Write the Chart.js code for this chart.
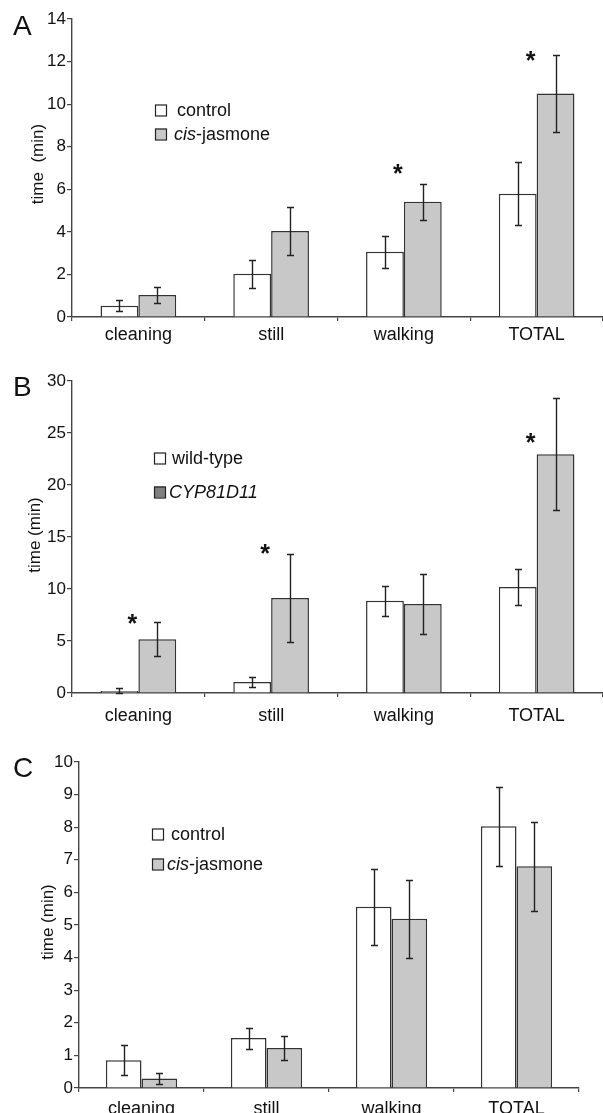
<!DOCTYPE html>
<html>
<head>
<meta charset="utf-8">
<script src="https://cdn.jsdelivr.net/npm/chart.js@4.4.1/dist/chart.umd.min.js"></script>
<style>
body{margin:0;background:#fff;}
.panel{position:absolute;left:0;width:603px;}
</style>
</head>
<body>
<div class="panel" style="top:0;height:355px"><canvas id="chartA" width="603" height="355"></canvas></div>
<div class="panel" style="top:360px;height:380px"><canvas id="chartB" width="603" height="380"></canvas></div>
<div class="panel" style="top:740px;height:373px"><canvas id="chartC" width="603" height="373"></canvas></div>
<script>
const categories=["cleaning","still","walking","TOTAL"];

// panel A
const ctrlA=[0.53,2.03,3.07,5.79];
const ctrlErrA=[0.25,0.66,0.75,1.47];
const cisA=[1.03,4.04,5.41,10.5];
const cisErrA=[0.36,1.12,0.85,1.83];
const starA=[null,null,7.0,12.3];
const ticksA={min:0,max:14,step:2};

// panel B
const wtB=[0.2,1.06,8.88,10.19];
const wtErrB=[0.25,0.47,1.43,1.7];
const cypB=[5.16,9.13,8.56,22.95];
const cypErrB=[1.62,4.25,2.9,5.37];
const starB=[7.2,13.9,null,24.6];
const ticksB={min:0,max:30,step:5};

// panel C
const ctrlC=[0.85,1.53,5.56,8.03];
const ctrlErrC=[0.46,0.32,1.17,1.21];
const cisC=[0.29,1.23,5.19,6.8];
const cisErrC=[0.17,0.36,1.19,1.37];
const starC=[null,null,null,null];
const ticksC={min:0,max:10,step:1};

const FONT="'Liberation Sans', Arial, sans-serif";
const GRAY="#c8c8c8";

function drawParts(ctx,parts,x,y){
    parts.forEach(p=>{
        ctx.font=(p.i?"italic ":"")+"18px "+FONT;
        ctx.fillText(p.t,x,y);
        x+=ctx.measureText(p.t).width;
    });
}

function makePanel(p){
    const decor={
        id:"decor",
        afterDatasetsDraw(chart){
            const ctx=chart.ctx,ys=chart.scales.y;
            ctx.save();
            ctx.strokeStyle="#222";ctx.lineWidth=1.4;
            chart.data.datasets.forEach((ds,i)=>{
                chart.getDatasetMeta(i).data.forEach((bar,j)=>{
                    const v=ds.data[j],e=ds.errors[j];
                    const t=Math.round(ys.getPixelForValue(v+e))+0.5;
                    const b=Math.round(ys.getPixelForValue(Math.max(v-e,0)))+0.5;
                    const x=Math.round(bar.x)+0.5;
                    ctx.beginPath();
                    ctx.moveTo(x,t);ctx.lineTo(x,b);
                    ctx.moveTo(x-3.5,t);ctx.lineTo(x+3.5,t);
                    ctx.moveTo(x-3.5,b);ctx.lineTo(x+3.5,b);
                    ctx.stroke();
                });
            });
            // significance stars
            ctx.fillStyle="#111";ctx.font="bold 25px "+FONT;ctx.textAlign="center";ctx.textBaseline="alphabetic";
            p.stars.forEach((s,j)=>{
                if(s==null) return;
                const x=chart.scales.x.getPixelForValue(j)-6;
                ctx.fillText("*",x,ys.getPixelForValue(s)+14);
            });
            ctx.restore();
        },
        afterDraw(chart){
            const ctx=chart.ctx;
            ctx.save();
            ctx.fillStyle="#111";ctx.textBaseline="alphabetic";ctx.textAlign="left";
            ctx.font="28px "+FONT;
            ctx.fillText(p.letter,13,p.letterY);
            // y title
            ctx.save();
            ctx.translate(p.titleX,p.titleY);ctx.rotate(-Math.PI/2);
            ctx.font="17px "+FONT;ctx.textAlign="center";ctx.textBaseline="middle";
            ctx.fillText(p.yTitle,0,0);
            ctx.restore();
            // legend
            p.legend.forEach(it=>{
                ctx.fillStyle=it.fill;ctx.strokeStyle="#222";ctx.lineWidth=1.2;
                ctx.fillRect(it.bx,it.cy-5.5,11,11);
                ctx.strokeRect(it.bx+0.5,it.cy-5,11,11);
                ctx.fillStyle="#111";ctx.textBaseline="middle";
                drawParts(ctx,it.parts,it.tx,it.cy+1);
            });
            ctx.restore();
        }
    };
    return new Chart(document.getElementById(p.id),{
        type:"bar",
        data:{labels:categories,datasets:[
            {label:p.names[0],data:p.a,errors:p.aErr,backgroundColor:"#fff",borderColor:"#333",borderWidth:1.5},
            {label:p.names[1],data:p.b,errors:p.bErr,backgroundColor:GRAY,borderColor:"#333",borderWidth:1.5}
        ]},
        options:{
            responsive:false,animation:false,
            categoryPercentage:0.57,barPercentage:1.0,
            layout:{padding:{top:p.top,right:p.right,left:0,bottom:0}},
            plugins:{legend:{display:false},tooltip:{enabled:false}},
            scales:{
                x:{
                    grid:{display:true,drawOnChartArea:false,tickLength:4,color:"#444",lineWidth:1.2},
                    border:{display:true,color:"#444",width:1.4},
                    ticks:{font:{family:FONT,size:18},color:"#111",padding:p.xPad,maxRotation:0},
                    afterFit(s){s.height=p.xH;}
                },
                y:{
                    min:p.ticks.min,max:p.ticks.max,
                    grid:{display:true,drawOnChartArea:false,tickLength:5,color:"#444",lineWidth:1.2},
                    border:{display:true,color:"#444",width:1.4},
                    ticks:{stepSize:p.ticks.step,font:{family:FONT,size:17},color:"#111",padding:1},
                    afterFit(s){s.width=p.yW;}
                }
            }
        },
        plugins:[decor]
    });
}

makePanel({id:"chartA",letter:"A",letterY:35,yTitle:"time  (min)",titleX:38,titleY:164,
    a:ctrlA,aErr:ctrlErrA,b:cisA,bErr:cisErrA,stars:starA,ticks:ticksA,names:["control","cis-jasmone"],
    top:19,right:0,xH:38,xPad:3,yW:72,
    legend:[
        {bx:155,cy:110,fill:"#fff",tx:177,parts:[{t:"control"}]},
        {bx:155,cy:134,fill:GRAY,tx:174,parts:[{t:"cis",i:true},{t:"-jasmone"}]}
    ]});

makePanel({id:"chartB",letter:"B",letterY:36,yTitle:"time (min)",titleX:35,titleY:175,
    a:wtB,aErr:wtErrB,b:cypB,bErr:cypErrB,stars:starB,ticks:ticksB,names:["wild-type","CYP81D11"],
    top:21,right:0,xH:47,xPad:8,yW:72,
    legend:[
        {bx:154,cy:98,fill:"#fff",tx:172,parts:[{t:"wild-type"}]},
        {bx:154,cy:132,fill:"#808080",tx:169,parts:[{t:"CYP81D11",i:true}]}
    ]});

makePanel({id:"chartC",letter:"C",letterY:37,yTitle:"time (min)",titleX:48,titleY:182,
    a:ctrlC,aErr:ctrlErrC,b:cisC,bErr:cisErrC,stars:starC,ticks:ticksC,names:["control","cis-jasmone"],
    top:22,right:24,xH:25,xPad:6,yW:79,
    legend:[
        {bx:152,cy:94,fill:"#fff",tx:171,parts:[{t:"control"}]},
        {bx:152,cy:124,fill:GRAY,tx:167,parts:[{t:"cis",i:true},{t:"-jasmone"}]}
    ]});
</script>
</body>
</html>
